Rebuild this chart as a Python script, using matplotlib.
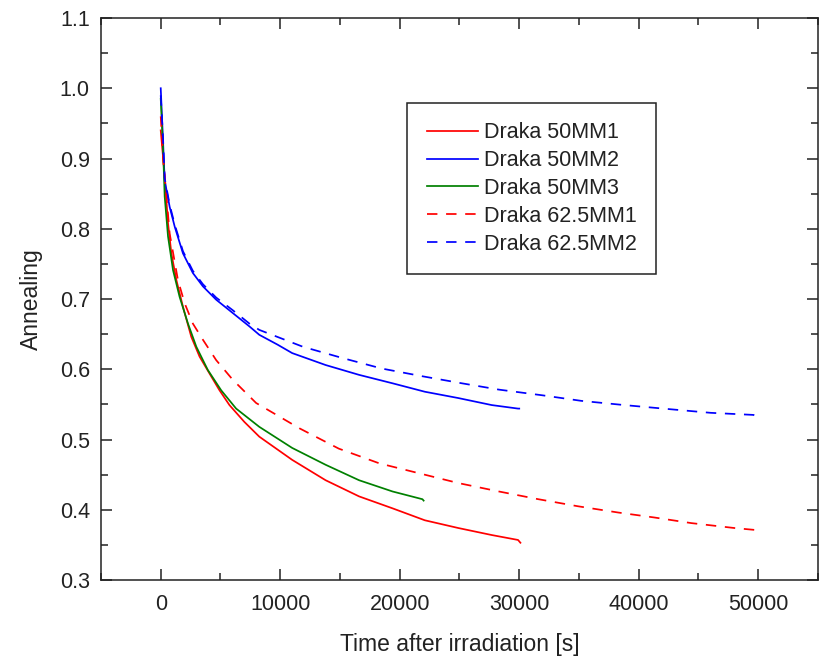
#!/usr/bin/env python3
"""Annealing of irradiated Draka fibres vs. time after irradiation."""

import matplotlib
matplotlib.use("Agg")
import matplotlib.pyplot as plt
from matplotlib.ticker import MultipleLocator

plt.rcParams['font.family'] = ['Liberation Sans', 'DejaVu Sans']

# ------------------------------------------------------------
# data (time in s, normalised annealing)
# ------------------------------------------------------------
t_50mm1 = [0, 190, 330, 610, 890, 1310, 1860, 2560, 3250, 4080, 4920, 5750,
           7000, 8250, 11000, 13800, 16600, 19400, 22100, 24900, 27700, 29900, 30100]
a_50mm1 = [0.94, 0.903, 0.874, 0.808, 0.765, 0.727, 0.689, 0.646, 0.618, 0.594, 0.570, 0.549,
           0.525, 0.504, 0.471, 0.442, 0.419, 0.402, 0.385, 0.374, 0.364, 0.357, 0.353]

t_50mm2 = [0, 190, 330, 750, 1170, 1860, 2690, 3530, 4640, 6030, 7420, 8250,
           9780, 11000, 13800, 16600, 19400, 22100, 24900, 27700, 29900, 30000]
a_50mm2 = [1.0, 0.926, 0.869, 0.831, 0.803, 0.765, 0.737, 0.718, 0.699, 0.680, 0.661, 0.649,
           0.635, 0.623, 0.606, 0.592, 0.580, 0.568, 0.559, 0.549, 0.544, 0.544]

t_50mm3 = [0, 190, 330, 610, 1030, 1580, 2280, 2980, 3940, 5060, 6310,
           8250, 11000, 13800, 16600, 19400, 21900, 22000]
a_50mm3 = [0.985, 0.917, 0.846, 0.789, 0.741, 0.703, 0.665, 0.632, 0.599, 0.570, 0.544,
           0.518, 0.488, 0.464, 0.442, 0.426, 0.415, 0.413]

t_625mm1 = [0, 200, 750, 1440, 2000, 2690, 3530, 4640, 6030, 7980, 11600, 14900,
            18300, 21600, 24900, 28300, 31600, 34900, 38300, 41300, 44400, 48000, 49900, 50000]
a_625mm1 = [0.96, 0.90, 0.793, 0.727, 0.694, 0.665, 0.642, 0.613, 0.585, 0.552, 0.516, 0.487,
            0.466, 0.452, 0.438, 0.426, 0.415, 0.405, 0.396, 0.389, 0.381, 0.374, 0.371, 0.368]

t_625mm2 = [0, 190, 330, 750, 1170, 1860, 2690, 3530, 4640, 6030, 7420, 8250, 11900, 15200,
            18500, 21900, 25200, 28300, 31900, 35200, 38800, 42700, 46000, 49600, 50000]
a_625mm2 = [0.99, 0.93, 0.872, 0.834, 0.806, 0.768, 0.740, 0.721, 0.702, 0.684, 0.665, 0.656,
            0.632, 0.616, 0.601, 0.590, 0.580, 0.571, 0.563, 0.555, 0.549, 0.543, 0.538, 0.535, 0.532]

labels = ['Draka 50MM1', 'Draka 50MM2', 'Draka 50MM3', 'Draka 62.5MM1', 'Draka 62.5MM2']

fig = plt.figure(figsize=(8.27, 6.57), dpi=100)
ax = fig.add_axes([0.1221, 0.1172, 0.867, 0.8554])

dash = (0, (6, 5))
lw = 1.25
ax.plot(t_50mm1, a_50mm1, color='#ff0000', lw=lw, label=labels[0])
ax.plot(t_50mm2, a_50mm2, color='#0000ff', lw=lw, label=labels[1])
ax.plot(t_50mm3, a_50mm3, color='#008000', lw=lw, label=labels[2])
ax.plot(t_625mm1, a_625mm1, color='#ff0000', lw=lw, ls=dash, label=labels[3])
ax.plot(t_625mm2, a_625mm2, color='#0000ff', lw=lw, ls=dash, label=labels[4])

ax.set_xlim(-5000, 55000)
ax.set_ylim(0.3, 1.1)
ax.xaxis.set_major_locator(MultipleLocator(10000))
ax.xaxis.set_minor_locator(MultipleLocator(5000))
ax.yaxis.set_major_locator(MultipleLocator(0.1))
ax.yaxis.set_minor_locator(MultipleLocator(0.05))
ax.yaxis.set_major_formatter(plt.FuncFormatter(lambda v, p: f"{v:.1f}"))

ax.tick_params(which='both', direction='in', top=True, right=True,
               width=1.1, colors='#222222', labelcolor='#222222', labelsize=15.5)
ax.tick_params(which='major', length=8)
ax.tick_params(which='minor', length=5)
ax.tick_params(axis='x', pad=10)
ax.tick_params(axis='y', pad=8)
for s in ax.spines.values():
    s.set_linewidth(1.1)
    s.set_color('#222222')

ax.set_xlabel('Time after irradiation [s]', fontsize=16.5, color='#222222', labelpad=13)
ax.set_ylabel('Annealing', fontsize=16.5, color='#222222', labelpad=12)

leg = ax.legend(loc='upper left', bbox_to_anchor=(0.427, 0.849), fontsize=15.5,
                fancybox=False, framealpha=1, edgecolor='#222222',
                handlelength=2.4, handletextpad=0.25, labelspacing=0.32,
                borderpad=0.9, borderaxespad=0)
leg.get_frame().set_linewidth(1.1)
for txt in leg.get_texts():
    txt.set_color('#222222')

fig.savefig('out.png', dpi=100)
